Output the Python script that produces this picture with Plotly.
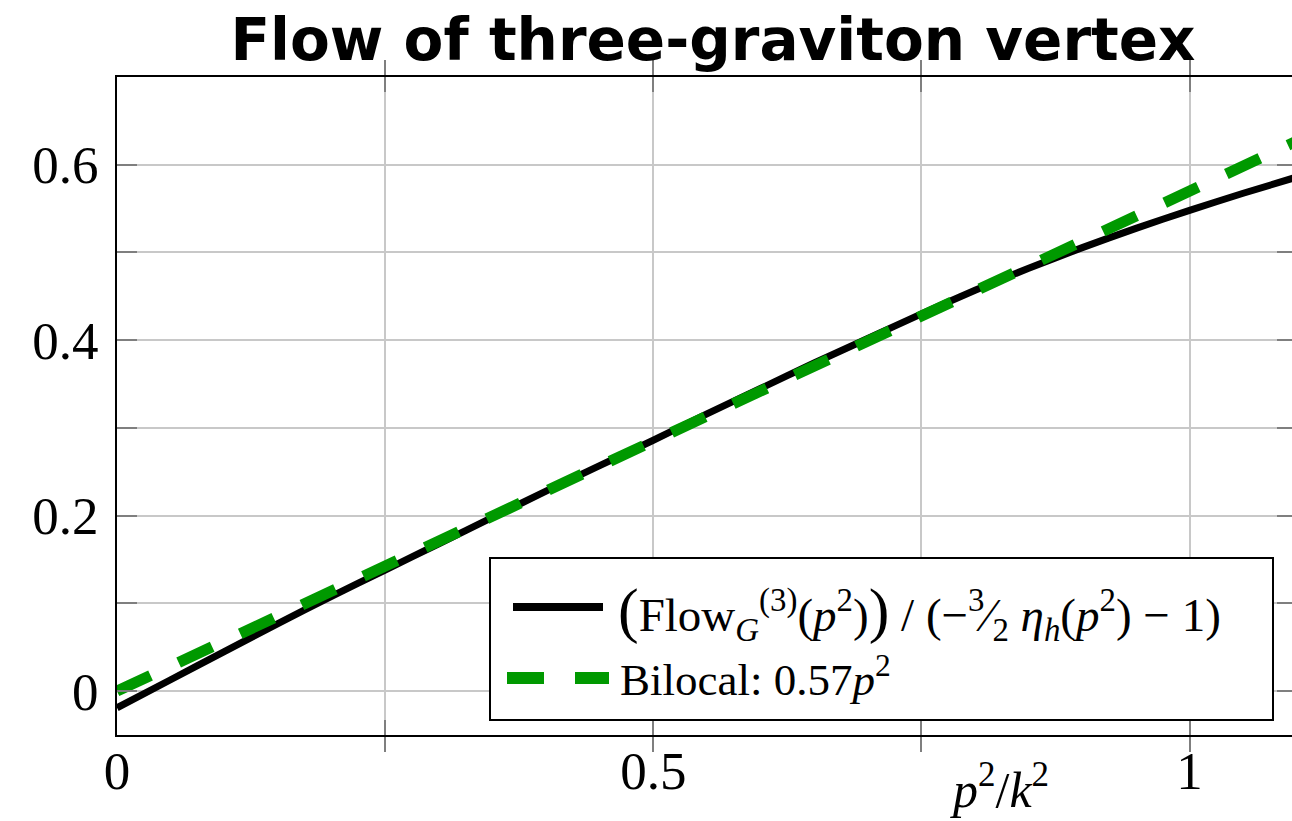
import plotly.graph_objects as go

# Flow-equation result for the three-graviton vertex, normalised by the anomalous dimension
p2_flow = [0.0, 0.05, 0.1, 0.15, 0.2, 0.25, 0.3, 0.35, 0.4, 0.45, 0.5, 0.55,
           0.6, 0.65, 0.7, 0.75, 0.8, 0.85, 0.9, 0.95, 1.0, 1.05, 1.1]
flow_vals = [-0.019, 0.013, 0.045, 0.077, 0.108, 0.138, 0.168, 0.198, 0.228, 0.257,
             0.286, 0.316, 0.345, 0.374, 0.402, 0.430, 0.457, 0.482, 0.5055, 0.5275,
             0.548, 0.5675, 0.586]

# Bilocal fit: c * p^2
bilocal_coeff = 0.57
p2_bilocal = [0.0, 1.1]
bilocal_vals = [bilocal_coeff * v for v in p2_bilocal]

x_ticks = [0, 0.25, 0.5, 0.75, 1.0]
x_ticktext = ["0", "", "0.5", "", "1"]
y_ticks = [0, 0.1, 0.2, 0.3, 0.4, 0.5, 0.6]
y_ticktext = ["0", "", "0.2", "", "0.4", "", "0.6"]

SERIF = "Liberation Serif"
GRID = "#c8c8c8"
TICK = "#7f7f7f"
GREEN = "#009900"
FLOW_W, BILOCAL_W = 7, 11
BILOCAL_DASH = "37px,31px"

flow_label = ("<span style='font-size:62px'>(</span>Flow<sub><i>G</i></sub><sup>(3)</sup>"
              "(<i>p</i><sup>2</sup>)<span style='font-size:62px'>)</span> / "
              "(−<sup>3</sup>⁄<sub>2</sub> <i>η<sub>h</sub></i>(<i>p</i><sup>2</sup>) − 1)")
bilocal_label = "Bilocal: 0.57<i>p</i><sup>2</sup>"

fig = go.Figure()
fig.add_trace(go.Scatter(
    x=p2_flow, y=flow_vals, mode="lines",
    line=dict(color="black", width=FLOW_W, shape="spline", smoothing=0.6),
    name=flow_label, showlegend=False,
))
fig.add_trace(go.Scatter(
    x=p2_bilocal, y=bilocal_vals, mode="lines",
    line=dict(color=GREEN, width=BILOCAL_W, dash=BILOCAL_DASH),
    name=bilocal_label, showlegend=False,
))
# invisible trace carrying the mirrored right-hand ticks
fig.add_trace(go.Scatter(x=[0], y=[0], yaxis="y2", mode="none",
                         showlegend=False, hoverinfo="skip"))

# plot area in pixels, used to place the legend box in paper units
L, R, T, B = 117, 1292, 77, 735
W, H = R - L, B - T
px = lambda x: (x - L) / W
py = lambda y: (B - y) / H

fig.update_layout(
    width=1292, height=821,
    margin=dict(l=L, r=1292 - R, t=T, b=821 - B),
    plot_bgcolor="white", paper_bgcolor="white",
    showlegend=False,
    title=dict(text="<b>Flow of three-graviton vertex</b>",
               font=dict(family="DejaVu Sans", size=58, color="black"),
               x=713 / 1292, xanchor="center", y=1 - 40 / 821, yanchor="middle"),
    xaxis=dict(range=[0, 1.0955], tickvals=x_ticks, ticktext=x_ticktext,
               showgrid=True, gridcolor=GRID, gridwidth=2, zeroline=False,
               showline=True, linecolor="black", linewidth=2, mirror="allticks",
               ticks="inside", ticklen=15, tickwidth=2, tickcolor=TICK,
               ticklabelstandoff=-12,
               tickfont=dict(family=SERIF, size=53, color="black")),
    yaxis=dict(range=[-0.05, 0.7], tickvals=y_ticks, ticktext=y_ticktext,
               showgrid=True, gridcolor=GRID, gridwidth=2, zeroline=False,
               showline=True, linecolor="black", linewidth=2,
               ticks="inside", ticklen=20, tickwidth=2, tickcolor=TICK,
               ticklabelstandoff=6,
               tickfont=dict(family=SERIF, size=53, color="black")),
    yaxis2=dict(range=[-0.05, 0.7], overlaying="y", side="right",
                tickvals=y_ticks, showticklabels=False, showgrid=False,
                zeroline=False, showline=False,
                ticks="inside", ticklen=15, tickwidth=2, tickcolor=TICK),
)

# legend box with its two keys
fig.add_shape(type="rect", xref="paper", yref="paper",
              x0=px(490), x1=px(1273), y0=py(720), y1=py(558),
              line=dict(color="black", width=2), fillcolor="white", layer="above")
fig.add_shape(type="line", xref="paper", yref="paper",
              x0=px(513), x1=px(603), y0=py(607), y1=py(607),
              line=dict(color="black", width=FLOW_W + 1), layer="above")
fig.add_shape(type="line", xref="paper", yref="paper",
              x0=px(507), x1=px(609), y0=py(678), y1=py(678),
              line=dict(color=GREEN, width=BILOCAL_W + 1, dash=BILOCAL_DASH), layer="above")
fig.add_annotation(text=flow_label, xref="paper", yref="paper",
                   x=px(616), y=py(612), xanchor="left", yanchor="middle",
                   showarrow=False, font=dict(family=SERIF, size=47, color="black"))
fig.add_annotation(text=bilocal_label, xref="paper", yref="paper",
                   x=px(618), y=py(676), xanchor="left", yanchor="middle",
                   showarrow=False, font=dict(family=SERIF, size=45, color="black"))

# x-axis title, set off to the right below the axis
fig.add_annotation(text="<i>p</i><sup>2</sup>/<i>k</i><sup>2</sup>",
                   x=0.823, xref="x", y=py(786), yref="paper",
                   showarrow=False, xanchor="center", yanchor="middle",
                   font=dict(family=SERIF, size=50, color="black"))

fig.write_html("out.html")
